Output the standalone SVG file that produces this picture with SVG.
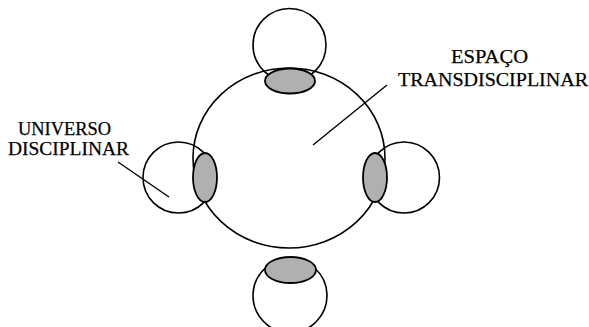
<svg xmlns="http://www.w3.org/2000/svg" width="589" height="327" viewBox="0 0 589 327">
<style>
.ring{fill:none;stroke:#000;stroke-width:1.6}
.overlap{fill:#b0b0b0;stroke:#000;stroke-width:1.8}
.lbl{font-family:"Liberation Serif","Times New Roman",serif;font-size:19.5px;fill:#000;stroke:#000;stroke-width:0.25}
.ptr{stroke:#000;stroke-width:1.4;fill:none}
</style>
<rect width="589" height="327" fill="#fff"/>
<g id="espaco-transdisciplinar">
<ellipse class="ring" cx="289" cy="158" rx="96" ry="90"/>
</g>
<g id="universo-top">
<circle class="ring" cx="289.5" cy="45" r="36.5"/>
<ellipse class="overlap" cx="290" cy="81" rx="25" ry="12.5"/>
</g>
<g id="universo-left">
<circle class="ring" cx="178.5" cy="177.5" r="35.5"/>
<ellipse class="overlap" cx="205" cy="177.5" rx="12" ry="24.5"/>
</g>
<g id="universo-right">
<circle class="ring" cx="404" cy="177.5" r="35.5"/>
<ellipse class="overlap" cx="375" cy="177.5" rx="12" ry="24.5"/>
</g>
<g id="universo-bottom">
<path class="ring" d="M265.4 268 A37 37 0 1 0 314.6 268"/>
<ellipse class="overlap" cx="290.5" cy="270" rx="25.5" ry="13"/>
</g>
<g id="connectors">
<line class="ptr" x1="118" y1="162" x2="169" y2="197"/>
<line class="ptr" x1="387" y1="85" x2="313" y2="145"/>
</g>
<g id="labels">
<text class="lbl" x="18" y="135" textLength="93" lengthAdjust="spacingAndGlyphs">UNIVERSO</text>
<text class="lbl" x="8" y="155" textLength="121" lengthAdjust="spacingAndGlyphs">DISCIPLINAR</text>
<text class="lbl" x="451" y="63" textLength="77" lengthAdjust="spacingAndGlyphs">ESPAÇO</text>
<text class="lbl" x="398" y="86" textLength="190" lengthAdjust="spacingAndGlyphs">TRANSDISCIPLINAR</text>
</g>
</svg>
